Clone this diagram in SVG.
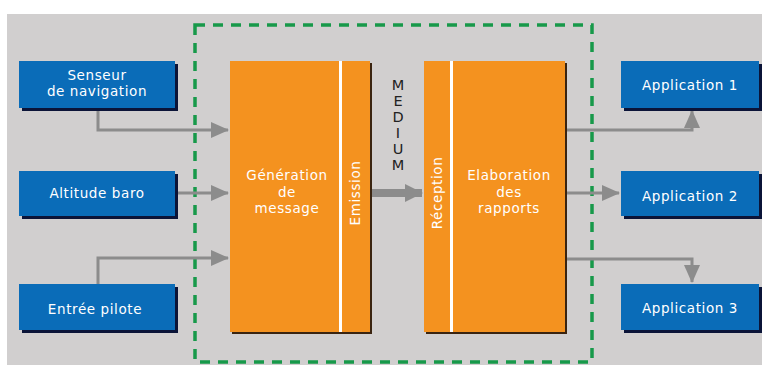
<svg xmlns="http://www.w3.org/2000/svg" width="762" height="365" viewBox="0 0 762 365">
<style>
.bg{fill:#d1cfcf}
.blue{fill:#0a6cb8}
.shadow{fill:#0b1438}
.orange{fill:#f4921f}
.oshadow{fill:#3a2410}
.sep{fill:#ffffff}
.t{font-family:"DejaVu Sans","Liberation Sans",sans-serif;font-size:13.5px;fill:#ffffff;text-anchor:middle;letter-spacing:0.6px}
.m{font-family:"DejaVu Sans","Liberation Sans",sans-serif;font-size:14.5px;fill:#222222;text-anchor:middle}
.ln{fill:none;stroke:#8c8c8c;stroke-width:3}
</style>
<defs>
<marker id="ah" markerUnits="userSpaceOnUse" markerWidth="18" markerHeight="18" viewBox="0 0 18 18" refX="17" refY="9" orient="auto">
<path d="M0,1 L18,9 L0,17 Z" fill="#8c8c8c"/>
</marker>
<marker id="ahb" markerUnits="userSpaceOnUse" markerWidth="18" markerHeight="20" viewBox="0 0 18 20" refX="17" refY="10" orient="auto">
<path d="M0,1 L18,10 L0,19 Z" fill="#8c8c8c"/>
</marker>
</defs>
<rect class="bg" x="7" y="14" width="755" height="351"/>
<rect x="195" y="25" width="397" height="337" fill="none" stroke="#17994a" stroke-width="3.5" stroke-dasharray="10,8"/>

<g id="connectors">
<path class="ln" d="M98,108 V130 H228" marker-end="url(#ah)"/>
<path class="ln" d="M175,193 H228" marker-end="url(#ah)"/>
<path class="ln" d="M98,284 V258 H228" marker-end="url(#ah)"/>
<path d="M372,193 H422" fill="none" stroke="#8c8c8c" stroke-width="8" marker-end="url(#ahb)"/>
<path class="ln" d="M565,130 H692 V111" marker-end="url(#ah)"/>
<path class="ln" d="M565,193 H619" marker-end="url(#ah)"/>
<path class="ln" d="M565,259 H692 V282" marker-end="url(#ah)"/>
</g>

<g id="senseur">
<rect class="shadow" x="22" y="64" width="156" height="47"/>
<rect class="blue" x="19" y="61" width="156" height="47"/>
<text class="t" x="97" y="80">Senseur</text>
<text class="t" x="97" y="96">de navigation</text>
</g>
<g id="altitude">
<rect class="shadow" x="22" y="174" width="156" height="45"/>
<rect class="blue" x="19" y="171" width="156" height="45"/>
<text class="t" x="97" y="198">Altitude baro</text>
</g>
<g id="pilote">
<rect class="shadow" x="22" y="287" width="156" height="46"/>
<rect class="blue" x="19" y="284" width="156" height="46"/>
<text class="t" x="95" y="314">Entrée pilote</text>
</g>

<g id="generation">
<rect class="oshadow" x="232" y="63" width="140" height="271"/>
<rect class="orange" x="230" y="61" width="140" height="271"/>
<rect class="sep" x="339" y="61" width="3" height="271"/>
<text class="t" x="287" y="180">Génération</text>
<text class="t" x="287" y="197">de</text>
<text class="t" x="287" y="213">message</text>
<text class="t" transform="translate(360,193) rotate(-90)">Emission</text>
</g>

<g id="medium">
<text class="m"><tspan x="398" y="90">M</tspan><tspan x="398" y="106">E</tspan><tspan x="398" y="122">D</tspan><tspan x="398" y="138">I</tspan><tspan x="398" y="154">U</tspan><tspan x="398" y="170">M</tspan></text>
</g>

<g id="elaboration">
<rect class="oshadow" x="426" y="63" width="141" height="271"/>
<rect class="orange" x="424" y="61" width="141" height="271"/>
<rect class="sep" x="450" y="61" width="3" height="271"/>
<text class="t" transform="translate(442,193) rotate(-90)">Réception</text>
<text class="t" x="509" y="180">Elaboration</text>
<text class="t" x="509" y="197">des</text>
<text class="t" x="509" y="213">rapports</text>
</g>

<g id="app1">
<rect class="shadow" x="624" y="64" width="138" height="47"/>
<rect class="blue" x="621" y="61" width="138" height="47"/>
<text class="t" x="690" y="90">Application 1</text>
</g>
<g id="app2">
<rect class="shadow" x="624" y="174" width="138" height="45"/>
<rect class="blue" x="621" y="171" width="138" height="45"/>
<text class="t" x="690" y="201">Application 2</text>
</g>
<g id="app3">
<rect class="shadow" x="624" y="287" width="138" height="46"/>
<rect class="blue" x="621" y="284" width="138" height="46"/>
<text class="t" x="690" y="313">Application 3</text>
</g>
</svg>
